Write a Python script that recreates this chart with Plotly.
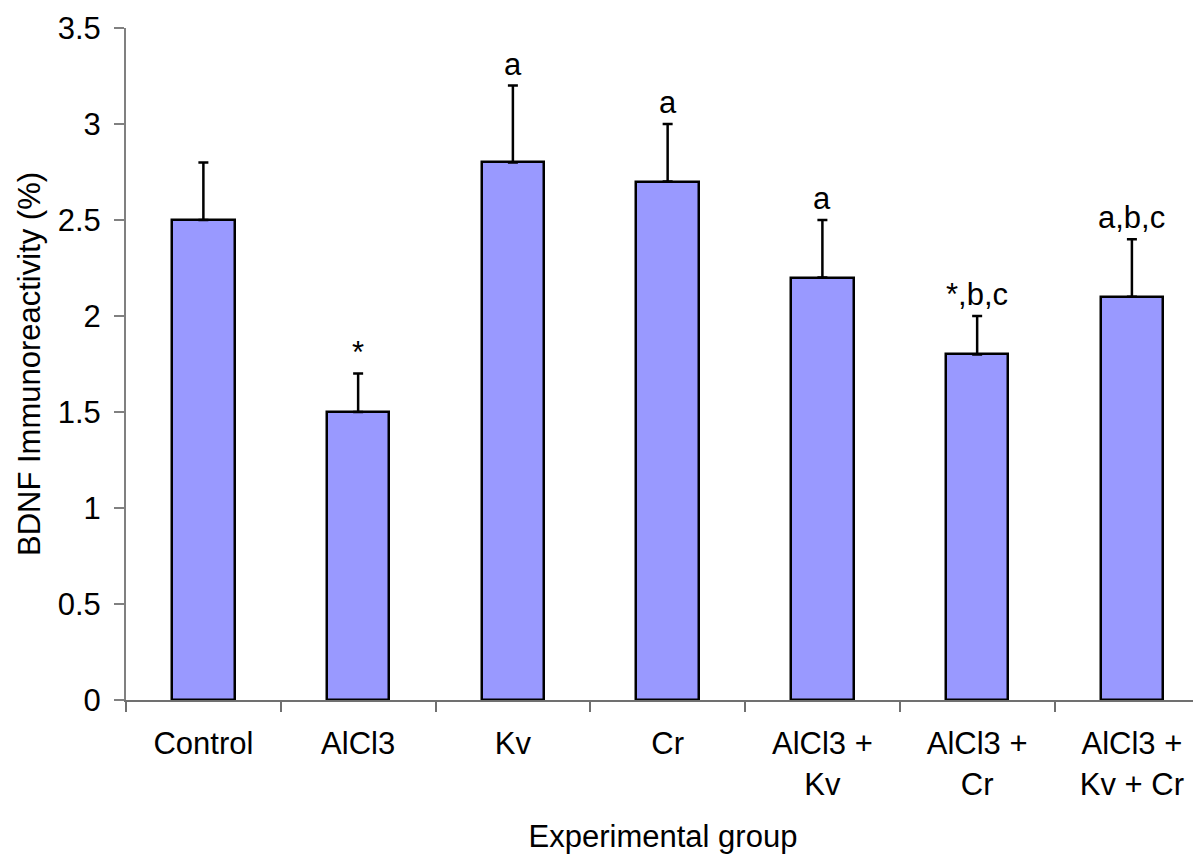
import plotly.graph_objects as go

categories = ["Control", "AlCl3", "Kv", "Cr", "AlCl3 +<br>Kv", "AlCl3 +<br>Cr", "AlCl3 +<br>Kv + Cr"]
means = [2.5, 1.5, 2.8, 2.7, 2.2, 1.8, 2.1]
errors = [0.3, 0.2, 0.4, 0.3, 0.3, 0.2, 0.3]
sig_labels = ["", "*", "a", "a", "a", "*,b,c", "a,b,c"]
y_ticks = [0, 0.5, 1, 1.5, 2, 2.5, 3, 3.5]
y_tick_text = ["0", "0.5", "1", "1.5", "2", "2.5", "3", "3.5"]

FONT = "Liberation Sans, Arial, sans-serif"
FS = 31

fig = go.Figure()
fig.add_trace(go.Bar(
    x=categories,
    y=means,
    width=0.405,
    marker=dict(color="#9999FF", line=dict(color="black", width=2.5)),
    error_y=dict(type="data", array=errors, symmetric=False, arrayminus=[0] * len(errors),
                 color="black", thickness=2.5, width=5),
))

for cat, m, e, lab in zip(categories, means, errors, sig_labels):
    if lab:
        fig.add_annotation(x=cat, y=m + e, text=lab, showarrow=False, yanchor="bottom",
                           yshift=2, font=dict(family=FONT, size=FS, color="black"))

fig.update_layout(
    width=1193, height=846,
    margin=dict(l=118, r=1, t=20, b=154),
    plot_bgcolor="white", paper_bgcolor="white",
    showlegend=False,
    font=dict(family=FONT, size=FS, color="black"),
    bargap=0,
)
fig.update_xaxes(
    type="category", tickson="boundaries",
    range=[-0.5, 6.44], showline=True, linecolor="#707070", linewidth=2,
    ticks="outside", ticklen=10, tickcolor="#707070", tickwidth=2,
    showgrid=False, zeroline=False, automargin=False,
    ticklabelstandoff=15,
    title=dict(text="Experimental group", font=dict(family=FONT, size=FS), standoff=27),
)
fig.update_yaxes(
    range=[0, 3.5], tickmode="array", tickvals=y_ticks, ticktext=y_tick_text,
    showline=True, linecolor="#808080", linewidth=2,
    ticks="outside", ticklen=10, tickcolor="#808080", tickwidth=2,
    showgrid=False, zeroline=False, automargin=False,
    ticklabelstandoff=7,
    title=dict(text="BDNF Immunoreactivity (%)", font=dict(family=FONT, size=FS), standoff=8),
)

fig.write_html("out.html")
